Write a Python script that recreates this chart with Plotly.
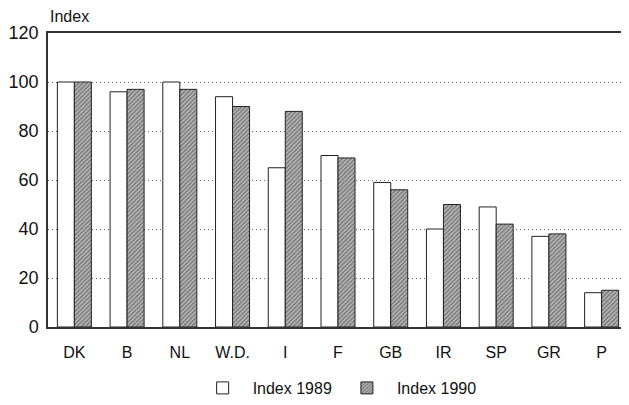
import plotly.graph_objects as go

categories = ["DK", "B", "NL", "W.D.", "I", "F", "GB", "IR", "SP", "GR", "P"]
index_1989 = [100, 96, 100, 94, 65, 70, 59, 40, 49, 37, 14]
index_1990 = [100, 97, 97, 90, 88, 69, 56, 50, 42, 38, 15]
y_ticks = [0, 20, 40, 60, 80, 100, 120]

FONT = "Liberation Sans, Arial, Helvetica, sans-serif"

fig = go.Figure()
fig.add_trace(go.Bar(
    x=categories, y=index_1989, name="Index 1989",
    marker=dict(color="white", line=dict(color="#222", width=1)),
))
fig.add_trace(go.Bar(
    x=categories, y=index_1990, name="Index 1990",
    marker=dict(color="#999", line=dict(color="#222", width=1),
                pattern=dict(shape="/", size=3, solidity=0.5,
                             fgcolor="#333", bgcolor="#bbb")),
))

fig.update_layout(
    width=621, height=397,
    margin=dict(l=40, r=1, t=25, b=78, autoexpand=False),
    paper_bgcolor="white", plot_bgcolor="white",
    barmode="group", bargap=0.355, bargroupgap=0.0,
    font=dict(family=FONT, size=16, color="#111"),
    showlegend=True,
    legend=dict(orientation="h", x=0.53, xanchor="center", xref="container",
                yref="container", y=0.0, yanchor="bottom",
                font=dict(size=16, family=FONT), itemwidth=50, tracegroupgap=0),
    xaxis=dict(showline=True, linecolor="#333", linewidth=1.5, mirror=True,
               ticks="", tickfont=dict(size=16), showgrid=False, automargin=False,
               ticklabelstandoff=10),
    yaxis=dict(range=[0, 120], tickvals=y_ticks, showline=True, linecolor="#333",
               linewidth=1.5, ticks="", showgrid=True, gridcolor="#666",
               griddash="1px,3px", gridwidth=1, zeroline=False, automargin=False,
               tickfont=dict(size=18), ticklabelstandoff=4),
    annotations=[dict(text="Index", xref="paper", yref="paper", x=0, y=1,
                      xanchor="left", yanchor="bottom", yshift=6, showarrow=False,
                      font=dict(size=16, family=FONT))],
)

fig.write_html("out.html")
